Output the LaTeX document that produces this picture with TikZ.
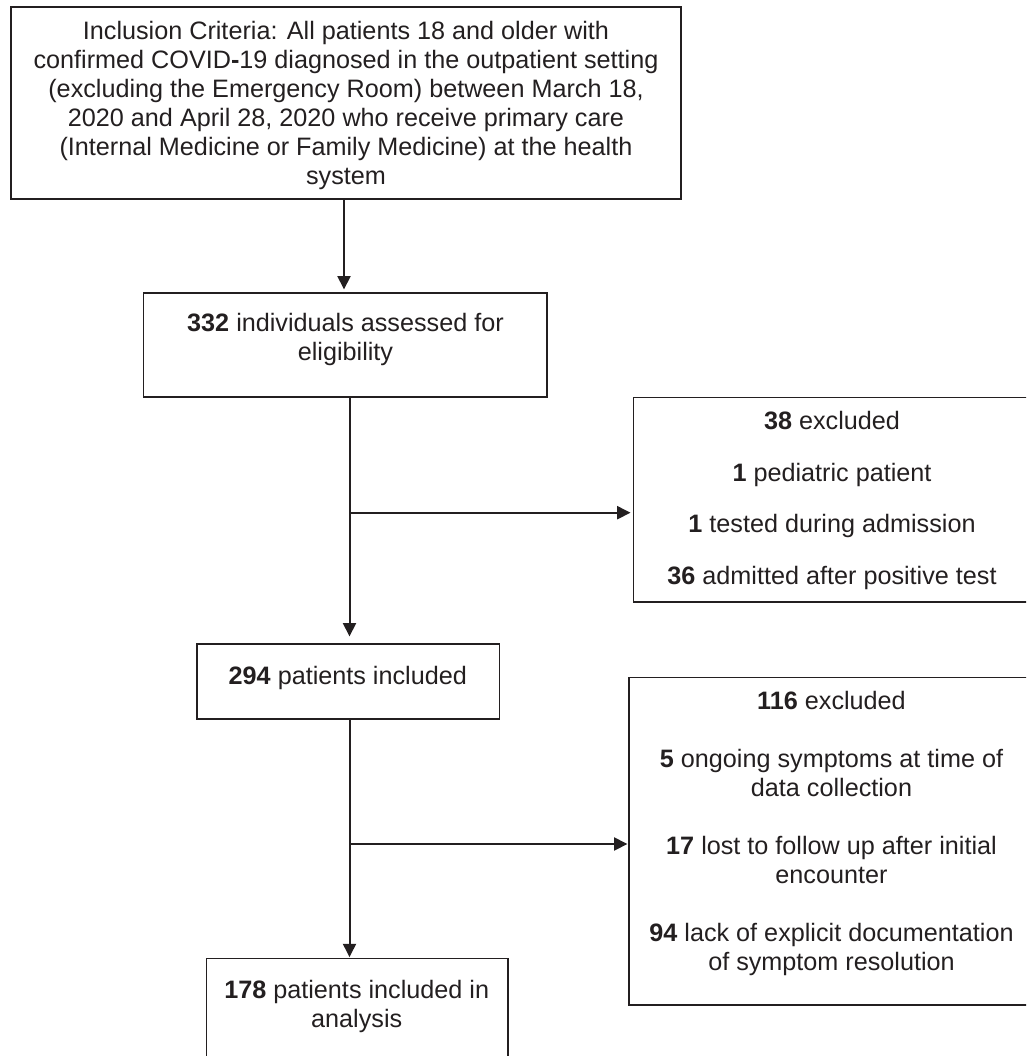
\documentclass[tikz,border=0pt]{standalone}
\usepackage{fontspec}
\setmainfont{Liberation Sans}
\usetikzlibrary{arrows.meta}
\definecolor{ink}{HTML}{231F20}
\begin{document}
\begin{tikzpicture}[x=1pt,y=-1pt,
  box/.style={draw=ink, line width=1.2pt, rectangle, inner sep=0pt},
  txt/.style={text=ink, align=center, font=\fontsize{25.2}{29}\selectfont, inner sep=0pt},
  arr/.style={draw=ink, line width=2pt, -{Triangle[length=13.3pt,width=13pt]}}]
\useasboundingbox (0,0) rectangle (1026,1056);
\clip (0,0) rectangle (1026,1056);
% boxes
\node[box, minimum width=670pt, minimum height=192pt] (b1) at (346,103) {};
\node[box, minimum width=403.5pt, minimum height=104pt] (b2) at (345.25,345) {};
\node[box, minimum width=302.5pt, minimum height=75pt] (b3) at (348.25,681.5) {};
\node[box, minimum width=301.5pt, minimum height=121.3pt] (b4) at (357.25,1019.35) {};
\node[box, minimum width=397pt, minimum height=204.7pt] (r1) at (832.1,499.65) {};
\node[box, minimum width=405pt, minimum height=327.5pt] (r2) at (831.5,841.25) {};
% texts
\node[txt] (t1) at (346,105) {Inclusion Criteria: All patients 18 and older with\\
confirmed COVID\textbf{-}19 diagnosed in the outpatient setting\\
(excluding the Emergency Room) between March 18,\\
2020 and April 28, 2020 who receive primary care\\
(Internal Medicine or Family Medicine) at the health\\
system};
\node[txt] (t2) at (345.5,339) {\textbf{332} individuals assessed for\\ eligibility};
\node[txt] (t3) at (347.8,678) {\textbf{294} patients included};
\node[txt] (t4) at (356.7,1006.5) {\textbf{178} patients included in\\ analysis};
\node[txt] (t5) at (832,500.5) {\textbf{38} excluded\\[22.7pt]
\textbf{1} pediatric patient\\[22.7pt]
\textbf{1} tested during admission\\[22.7pt]
\textbf{36} admitted after positive test};
\node[txt] (t6) at (831.5,833.5) {\textbf{116} excluded\\[29pt]
\textbf{5} ongoing symptoms at time of\\ data collection\\[29pt]
\textbf{17} lost to follow up after initial\\ encounter\\[29pt]
\textbf{94} lack of explicit documentation\\ of symptom resolution};
% connectors
\draw[arr, shorten >=3pt] ([xshift=-2pt]b1.south) -- ([xshift=-2pt]b1.south |- b2.north);
\draw[arr, shorten >=7pt] ([xshift=4.25pt]b2.south) -- ([xshift=4.25pt]b2.south |- b3.north);
\coordinate (j1) at (349.5,512.7);
\draw[arr, shorten >=2.5pt] (j1) -- (j1 -| r1.west);
\draw[arr, shorten >=1pt] ([xshift=1.25pt]b3.south) -- ([xshift=1.25pt]b3.south |- b4.north);
\coordinate (j2) at (349.5,844);
\draw[arr, shorten >=1pt] (j2) -- (j2 -| r2.west);
\end{tikzpicture}
\end{document}
